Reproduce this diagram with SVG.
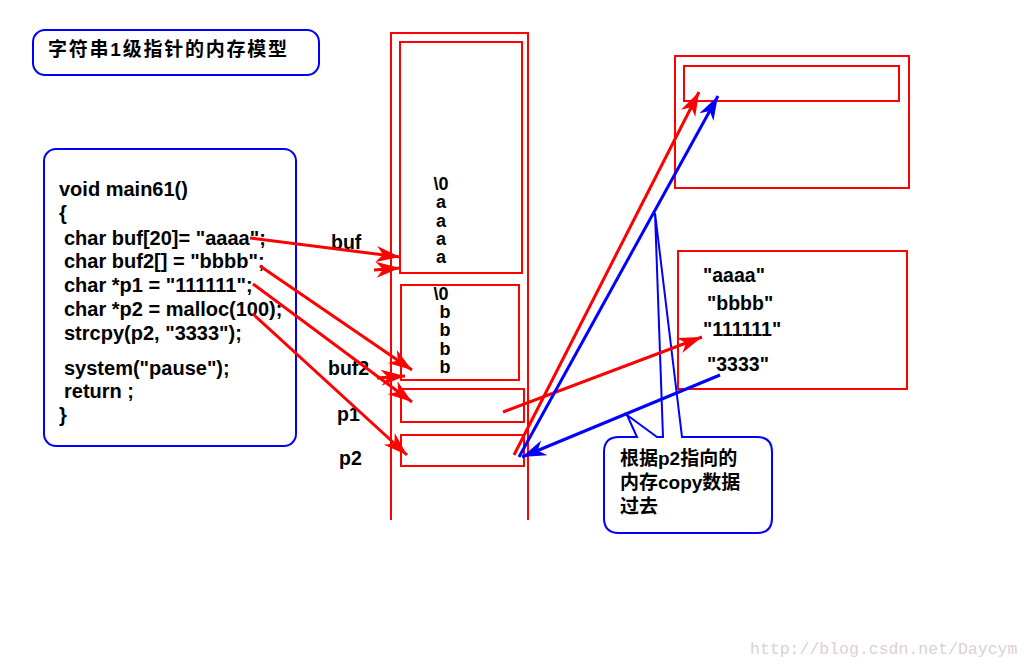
<svg xmlns="http://www.w3.org/2000/svg" width="1030" height="669" viewBox="0 0 1030 669">
<style>
.t{font-family:"Liberation Sans","Noto Sans CJK SC",sans-serif;font-weight:bold;font-size:19.5px;fill:#000}
.c{font-size:20px}
.s{font-size:18px}
.cjk{font-family:"Liberation Sans","Noto Sans CJK SC",sans-serif;font-weight:bold;font-size:19px;fill:#000}
.m{text-anchor:middle}
.bb{fill:#fff;stroke:#0000ff;stroke-width:2}
.rb{fill:none;stroke:#ff0000;stroke-width:2}
.ra{fill:none;stroke:#ff0000;stroke-width:3;marker-end:url(#ar)}
.ba{fill:none;stroke:#0000ff;stroke-width:3;marker-end:url(#ab)}
.wm{font-family:"Liberation Mono",monospace;font-size:16.5px;fill:#ddd0d0}
</style>
<defs>
<marker id="ar" markerUnits="userSpaceOnUse" markerWidth="26" markerHeight="18" refX="24" refY="9" orient="auto" viewBox="0 0 26 18">
<path d="M0,1 L24,9 L0,17 L7,9 Z" fill="#ff0000"/>
</marker>
<marker id="ab" markerUnits="userSpaceOnUse" markerWidth="26" markerHeight="18" refX="24" refY="9" orient="auto" viewBox="0 0 26 18">
<path d="M0,1 L24,9 L0,17 L7,9 Z" fill="#0000ff"/>
</marker>
</defs>
<rect width="1030" height="669" fill="#fff"/>

<g id="title">
<rect class="bb" x="33" y="30" width="286" height="45" rx="12"/>
<text class="cjk" x="48" y="56" font-size="21" textLength="239" lengthAdjust="spacing">字符串1级指针的内存模型</text>
</g>

<g id="code">
<rect class="bb" x="44" y="149" width="252" height="297" rx="12"/>
<text class="t c" x="59" y="196">void main61()</text>
<text class="t c" x="59" y="220">{</text>
<text class="t c" x="64" y="245">char buf[20]= "aaaa";</text>
<text class="t c" x="64" y="268">char buf2[] = "bbbb";</text>
<text class="t c" x="64" y="292">char *p1 = "111111";</text>
<text class="t c" x="64" y="316">char *p2 = malloc(100);</text>
<text class="t c" x="64" y="340">strcpy(p2, "3333");</text>
<text class="t c" x="64" y="375">system("pause");</text>
<text class="t c" x="64" y="398">return ;</text>
<text class="t c" x="59" y="422">}</text>
</g>

<g id="stack">
<path class="rb" d="M391,520 V33 H528 V520"/>
</g>

<g id="buf">
<rect class="rb" x="400" y="42" width="122" height="231"/>
<text class="t s m" x="441" y="190">\0</text>
<text class="t s m" x="441" y="208">a</text>
<text class="t s m" x="441" y="227">a</text>
<text class="t s m" x="441" y="245">a</text>
<text class="t s m" x="441" y="263">a</text>
<text class="t" x="331" y="249">buf</text>
</g>

<g id="buf2">
<rect class="rb" x="401" y="285" width="118" height="95"/>
<text class="t s m" x="441" y="300">\0</text>
<text class="t s m" x="445" y="318">b</text>
<text class="t s m" x="445" y="336">b</text>
<text class="t s m" x="445" y="355">b</text>
<text class="t s m" x="445" y="373">b</text>
<text class="t" x="328" y="375">buf2</text>
</g>

<g id="p1">
<rect class="rb" x="401" y="389" width="123" height="33"/>
<text class="t" x="337" y="421">p1</text>
</g>

<g id="p2">
<rect class="rb" x="401" y="435" width="123" height="31"/>
<text class="t" x="339" y="465">p2</text>
</g>

<g id="heap">
<rect class="rb" x="675" y="56" width="234" height="132"/>
<rect class="rb" x="684" y="66" width="215" height="35"/>
</g>

<g id="constants">
<rect class="rb" x="678" y="251" width="229" height="138"/>
<text class="t" x="703" y="282">"aaaa"</text>
<text class="t" x="707" y="310">"bbbb"</text>
<text class="t" x="703" y="336">"111111"</text>
<text class="t" x="707" y="371">"3333"</text>
</g>

<g id="callout">
<path class="bb" d="M619,437 L637,437 L627,415 L657,437 L663,437 L655,213 L682,437 L757,437 Q772,437 772,452 L772,518 Q772,533 757,533 L619,533 Q604,533 604,518 L604,452 Q604,437 619,437 Z"/>
<text class="cjk" x="620" y="465">根据p2指向的</text>
<text class="cjk" x="620" y="489">内存copy数据</text>
<text class="cjk" x="620" y="513">过去</text>
</g>

<g id="connectors">
<path class="ra" d="M250,238 L400,257"/>
<path class="ra" d="M374,270 L400,268"/>
<path class="ra" d="M260,266 L412,370"/>
<path class="ra" d="M377,378 L405,376"/>
<path class="ra" d="M253,284 L412,402"/>
<path class="ra" d="M253,314 L407,455"/>
<path class="ra" d="M503,412 L702,337"/>
<path class="ra" d="M514,455 L699,92"/>
<path class="ba" d="M519,457 L718,96"/>
<path class="ba" d="M720,375 L522,457"/>
</g>

<text class="wm" x="750" y="654">http://blog.csdn.net/Daycym</text>
</svg>
